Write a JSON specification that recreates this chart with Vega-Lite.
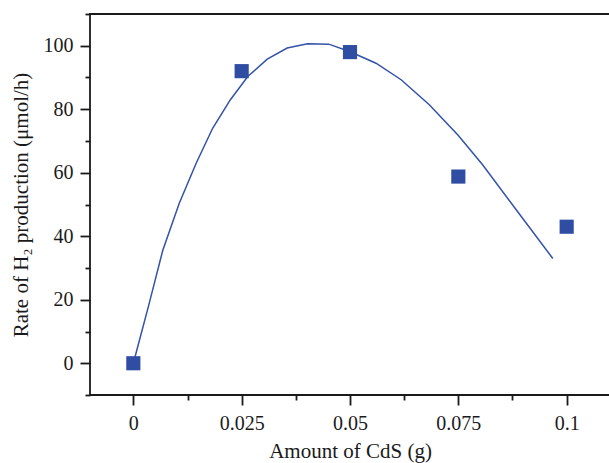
{
  "$schema": "https://vega.github.io/schema/vega-lite/v6.json",
  "width": 520,
  "height": 381,
  "autosize": "none",
  "padding": {"left": 90, "top": 14, "right": 0, "bottom": 68},
  "background": "white",
  "config": {
    "view": {"stroke": "#1a1a1a", "strokeWidth": 1.8},
    "font": "Liberation Serif",
    "axis": {
      "labelFont": "Liberation Serif",
      "titleFont": "Liberation Serif",
      "labelFontSize": 20,
      "titleFontSize": 21,
      "titleFontWeight": "normal",
      "labelColor": "#1a1a1a",
      "titleColor": "#1a1a1a",
      "tickColor": "#1a1a1a",
      "tickWidth": 1.8,
      "domain": false,
      "grid": false,
      "labelOverlap": false,
      "labelFlush": false,
      "labelBound": false
    }
  },
  "datasets": {
    "curve": [
      {"x": 0, "y": 0},
      {"x": 0.0035, "y": 18},
      {"x": 0.0068, "y": 35.6},
      {"x": 0.0106, "y": 50.4},
      {"x": 0.0145, "y": 63.0},
      {"x": 0.0183, "y": 74.0},
      {"x": 0.0224, "y": 83.0},
      {"x": 0.0264, "y": 90.3},
      {"x": 0.0309, "y": 95.8},
      {"x": 0.0355, "y": 99.3},
      {"x": 0.0402, "y": 100.6},
      {"x": 0.0451, "y": 100.5},
      {"x": 0.0499, "y": 98.2},
      {"x": 0.056, "y": 94.5},
      {"x": 0.0618, "y": 89.3},
      {"x": 0.0683, "y": 81.4},
      {"x": 0.0749, "y": 71.9},
      {"x": 0.0806, "y": 62.5},
      {"x": 0.0887, "y": 47.7},
      {"x": 0.0968, "y": 33.0}
    ],
    "points": [
      {"x": 0, "y": 0},
      {"x": 0.025, "y": 92},
      {"x": 0.05, "y": 98},
      {"x": 0.075, "y": 58.8},
      {"x": 0.1, "y": 43}
    ]
  },
  "resolve": {"axis": {"y": "independent"}},
  "layer": [
    {
      "data": {"name": "curve"},
      "mark": {"type": "line", "color": "#3352a8", "strokeWidth": 1.5, "clip": true},
      "encoding": {
        "x": {
          "field": "x",
          "type": "quantitative",
          "scale": {"domain": [-0.01, 0.11], "nice": false, "zero": false},
          "axis": {
            "title": "Amount of CdS (g)",
            "values": [0, 0.0125, 0.025, 0.0375, 0.05, 0.0625, 0.075, 0.0875, 0.1],
            "format": "~g",
            "labelExpr": "abs(datum.value*40 - round(datum.value*40)) < 0.001 ? datum.label : ''",
            "tickSize": {"condition": {"test": "abs(datum.value*40 - round(datum.value*40)) < 0.001", "value": 10}, "value": 5},
            "labelPadding": 8,
            "titlePadding": 7
          }
        },
        "y": {
          "field": "y",
          "type": "quantitative",
          "scale": {"domain": [-10, 110], "nice": false, "zero": false},
          "axis": {
            "orient": "left",
            "title": "Rate of H₂ production (μmol/h)",
            "values": [0, 20, 40, 60, 80, 100],
            "format": "d",
            "tickSize": 10,
            "labelPadding": 7,
            "titlePadding": 12
          }
        }
      }
    },
    {
      "data": {"name": "points"},
      "mark": {"type": "point", "shape": "square", "filled": true, "size": 200, "color": "#2e4da3", "opacity": 1},
      "encoding": {
        "x": {"field": "x", "type": "quantitative"},
        "y": {
          "field": "y",
          "type": "quantitative",
          "axis": {
            "orient": "left",
            "title": null,
            "values": [-10, 10, 30, 50, 70, 90, 110],
            "labels": false,
            "tickSize": 5
          }
        }
      }
    }
  ]
}
